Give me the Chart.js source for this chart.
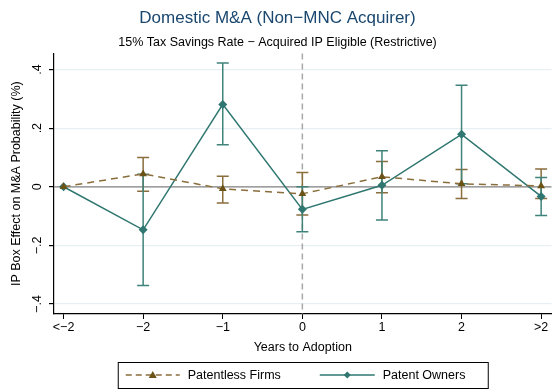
<!DOCTYPE html>
<html>
<head>
<meta charset="utf-8">
<script src="https://cdn.jsdelivr.net/npm/chart.js@4/dist/chart.umd.min.js"></script>
<style>
  html, body { margin: 0; padding: 0; background: #fff; }
  #wrap { width: 556px; height: 389px; }
</style>
</head>
<body>
<div id="wrap"><canvas id="myChart" width="556" height="389"></canvas></div>
<script>
// categories (years relative to IP box adoption)
const years = ['<\u22122', '\u22122', '\u22121', '0', '1', '2', '>2'];
const yTicks = [-0.4, -0.2, 0, 0.2, 0.4];
const yTickLabels = ['\u2212.4', '\u2212.2', '0', '.2', '.4'];

// Patentless firms: point estimates and 95% CI
const patentless = [0, 0.044, -0.007, -0.024, 0.034, 0.010, 0.003];
const patentlessLo = [null, -0.015, -0.055, -0.096, -0.020, -0.040, -0.040];
const patentlessHi = [null, 0.100, 0.036, 0.049, 0.086, 0.059, 0.061];

// Patent owners: point estimates and 95% CI
const owners = [0, -0.147, 0.281, -0.077, 0.005, 0.179, -0.033];
const ownersLo = [null, -0.337, 0.143, -0.153, -0.113, 0.010, -0.098];
const ownersHi = [null, 0.043, 0.422, 0.000, 0.123, 0.346, 0.032];

const BROWN = '#6b5217';
const BROWN_BAR = '#8a6e3c';
const TEAL = '#2f7770';
const TEAL_BAR = '#3f837b';
const FONT = 'Liberation Sans, Arial, sans-serif';
const Y_TITLE = 'IP Box Effect on M&A Probability (%)';

const ctx = document.getElementById('myChart').getContext('2d');

const toPoints = function (vals) {
    return vals.map(function (v, i) { return {x: i, y: v}; });
};

// error bars (rcap) drawn through the scales, under the lines
const errorBars = {
    id: 'errorBars',
    beforeDatasetsDraw(chart) {
        const xs = chart.scales.x, ys = chart.scales.y;
        const c = chart.ctx;
        const sets = [
            {lo: patentlessLo, hi: patentlessHi, color: BROWN_BAR},
            {lo: ownersLo, hi: ownersHi, color: TEAL_BAR}
        ];
        c.save();
        c.lineWidth = 1.5;
        sets.forEach(function (s) {
            c.strokeStyle = s.color;
            for (let i = 0; i < years.length; i++) {
                if (s.lo[i] === null) continue;
                const px = xs.getPixelForValue(i);
                const y1 = ys.getPixelForValue(s.lo[i]);
                const y2 = ys.getPixelForValue(s.hi[i]);
                c.beginPath();
                c.moveTo(px, y1); c.lineTo(px, y2);
                c.moveTo(px - 6, y1); c.lineTo(px + 6, y1);
                c.moveTo(px - 6, y2); c.lineTo(px + 6, y2);
                c.stroke();
            }
        });
        c.restore();
    }
};

// reference lines: y = 0 and adoption year
const refLines = {
    id: 'refLines',
    beforeDatasetsDraw(chart) {
        const xs = chart.scales.x, ys = chart.scales.y, a = chart.chartArea;
        const c = chart.ctx;
        c.save();
        c.strokeStyle = '#a8a8a8';
        c.lineWidth = 1.5;
        c.setLineDash([6, 4]);
        const px = xs.getPixelForValue(3);
        c.beginPath();
        c.moveTo(px, a.top); c.lineTo(px, a.bottom);
        c.stroke();
        c.setLineDash([]);
        c.strokeStyle = '#7f7f7f';
        c.lineWidth = 1.2;
        const py = ys.getPixelForValue(0);
        c.beginPath();
        c.moveTo(a.left, py); c.lineTo(a.right, py);
        c.stroke();
        c.restore();
    }
};

// vertical (Stata-style) y tick labels and y title
const yLabels = {
    id: 'yLabels',
    afterDraw(chart) {
        const ys = chart.scales.y, a = chart.chartArea;
        const c = chart.ctx;
        c.save();
        c.fillStyle = '#000';
        c.font = '12.5px ' + FONT;
        c.textAlign = 'center';
        c.textBaseline = 'middle';
        yTicks.forEach(function (v, k) {
            c.save();
            c.translate(a.left - 16, ys.getPixelForValue(v));
            c.rotate(-Math.PI / 2);
            c.fillText(yTickLabels[k], 0, 0);
            c.restore();
        });
        c.translate(17, (a.top + a.bottom) / 2);
        c.rotate(-Math.PI / 2);
        c.fillText(Y_TITLE, 0, 0);
        c.restore();
    }
};

// boxed legend under the axis title
const boxLegend = {
    id: 'boxLegend',
    afterDraw(chart) {
        const c = chart.ctx, a = chart.chartArea;
        const cx = (a.left + a.right) / 2;
        const left = cx - 185, top = 362, w = 370, h = 26;
        const my = top + h / 2;
        c.save();
        c.strokeStyle = '#000';
        c.lineWidth = 1;
        c.strokeRect(left + 0.5, top + 0.5, w, h);

        c.strokeStyle = BROWN_BAR;
        c.lineWidth = 1.5;
        c.setLineDash([6, 4]);
        c.beginPath(); c.moveTo(left + 8, my); c.lineTo(left + 62, my); c.stroke();
        c.setLineDash([]);
        c.fillStyle = BROWN;
        c.beginPath();
        c.moveTo(left + 35, my - 4); c.lineTo(left + 39, my + 3); c.lineTo(left + 31, my + 3);
        c.closePath(); c.fill();

        c.strokeStyle = TEAL;
        c.beginPath(); c.moveTo(left + 202, my); c.lineTo(left + 257, my); c.stroke();
        c.fillStyle = TEAL;
        c.beginPath();
        c.moveTo(left + 229.5, my - 3.5); c.lineTo(left + 233, my); c.lineTo(left + 229.5, my + 3.5); c.lineTo(left + 226, my);
        c.closePath(); c.fill();

        c.fillStyle = '#000';
        c.font = '12.5px ' + FONT;
        c.textBaseline = 'middle';
        c.fillText('Patentless Firms', left + 70, my + 1);
        c.fillText('Patent Owners', left + 265, my + 1);
        c.restore();
    }
};

const config = {
    type: 'line',
    data: {
        datasets: [
            {
                label: 'Patentless Firms',
                data: toPoints(patentless),
                borderColor: BROWN_BAR,
                backgroundColor: BROWN,
                borderWidth: 1.5,
                borderDash: [7, 5],
                pointStyle: 'triangle',
                pointRadius: 4.5,
                pointBorderWidth: 0,
                pointBackgroundColor: BROWN,
            },
            {
                label: 'Patent Owners',
                data: toPoints(owners),
                borderColor: TEAL,
                backgroundColor: TEAL,
                borderWidth: 1.5,
                pointStyle: 'rectRot',
                pointRadius: 4.5,
                pointBorderWidth: 0,
                pointBackgroundColor: TEAL,
            }
        ]
    },
    options: {
        responsive: false,
        animation: false,
        layout: {padding: {left: 0, right: 1, top: 0, bottom: 34}},
        plugins: {
            legend: {display: false},
            tooltip: {enabled: false},
            title: {
                display: true,
                text: 'Domestic M&A (Non\u2212MNC Acquirer)',
                color: '#1a476f',
                font: {family: FONT, size: 17, weight: 'normal'},
                padding: {top: 8, bottom: 7}
            },
            subtitle: {
                display: true,
                text: '15% Tax Savings Rate \u2212 Acquired IP Eligible (Restrictive)',
                color: '#000',
                font: {family: FONT, size: 12.5, weight: 'normal'},
                padding: {top: 0, bottom: 3}
            }
        },
        scales: {
            x: {
                type: 'linear',
                min: -0.12,
                max: 6.13,
                afterBuildTicks: function (scale) {
                    scale.ticks = years.map(function (_, i) { return {value: i}; });
                },
                afterFit: function (scale) { scale.height = 41; },
                ticks: {
                    color: '#000',
                    font: {family: FONT, size: 12.5},
                    padding: 1,
                    maxRotation: 0,
                    callback: function (v) { return years[v]; }
                },
                grid: {drawOnChartArea: false, tickColor: '#000', tickLength: 5},
                border: {color: '#000', width: 1.2},
                title: {
                    display: true,
                    text: 'Years to Adoption',
                    color: '#000',
                    font: {family: FONT, size: 12.5},
                    padding: {top: 0, bottom: 0}
                }
            },
            y: {
                min: -0.434,
                max: 0.455,
                afterBuildTicks: function (scale) {
                    scale.ticks = yTicks.map(function (v) { return {value: v}; });
                },
                afterFit: function (scale) { scale.width = 54; },
                ticks: {display: false},
                grid: {
                    color: function (c) { return c.tick && c.tick.value === 0 ? 'rgba(0,0,0,0)' : '#e6eff1'; },
                    tickColor: '#000',
                    tickLength: 5,
                    lineWidth: 1.2
                },
                border: {color: '#000', width: 1.2}
            }
        }
    },
    plugins: [refLines, errorBars, yLabels, boxLegend]
};

const lineChart = new Chart(ctx, config);
</script>
</body>
</html>
